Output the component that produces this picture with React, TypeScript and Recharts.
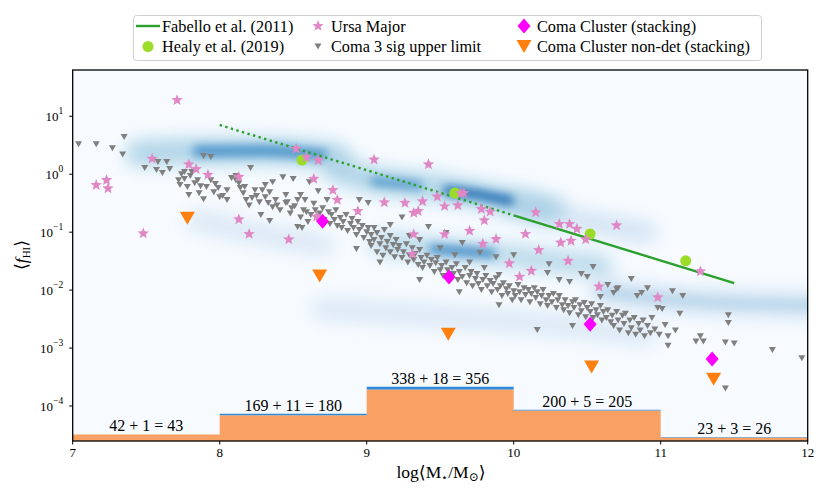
import React from 'react';
import { ComposedChart, CartesianGrid, XAxis, YAxis, Line, Area, Scatter, ReferenceDot } from 'recharts';

const FONT = 'Liberation Serif, DejaVu Serif, serif';

// stacked histogram of stellar mass (non-det + det)
const binEdges = [7, 8, 9, 10, 11, 12];
const binCounts = [42, 169, 338, 200, 23];
const binExtra = [1, 11, 18, 5, 3];

// Fabello et al. (2011) stacking relation: measured + extrapolated
const fabelloSolid = [[10, 0.195], [11.5, 0.0132]];
const fabelloDotted = [[8, 7.07], [10, 0.195]];

const healy = [[8.56, 1.76], [9.6, 0.474], [10.52, 0.093], [11.17, 0.032]];
const comaStack = [[8.7, 0.155], [9.56, 0.0168], [10.52, 0.00257], [11.35, 0.00065]];
const comaNonDet = [[7.78, 0.174], [8.68, 0.0175], [9.555, 0.00174], [10.53, 0.00047], [11.36, 0.00029]];

const ursaMajor = [
  [7.71, 19], [7.54, 1.85], [7.16, 0.65], [7.23, 0.79], [7.24, 0.57], [7.79, 1.48], [7.84, 1.22], [7.92, 0.98],
  [8.13, 0.9], [7.48, 0.095], [8.13, 0.166], [8.2, 0.093], [8.47, 0.075], [8.52, 2.75], [8.59, 1.96], [8.67, 1.74],
  [8.64, 0.83], [8.66, 0.185], [9.05, 1.78], [9.42, 1.48], [8.77, 0.53], [8.8, 0.36], [8.94, 0.23], [9.12, 0.327],
  [9.26, 0.32], [9.38, 0.34], [9.32, 0.215], [9.35, 0.23], [9.48, 0.41], [9.53, 0.28], [9.62, 0.29], [9.64, 0.47],
  [9.66, 0.47], [9.78, 0.25], [9.84, 0.225], [9.8, 0.16], [10.15, 0.22], [10.31, 0.138], [10.38, 0.138], [10.43, 0.114],
  [10.49, 0.075], [10.32, 0.066], [10.39, 0.071], [10.7, 0.131], [10.37, 0.032], [11.27, 0.021], [10.58, 0.0115],
  [10.98, 0.0075], [10.08, 0.093], [10.17, 0.049], [9.7, 0.105], [9.88, 0.076], [9.79, 0.063], [9.53, 0.092],
  [9.32, 0.092], [9.31, 0.042], [9.97, 0.029], [10.12, 0.0215], [10.04, 0.017],
];

// Coma 3 sigma upper limits, split by mass bin
const comaLimits7 = [
  [7.04, 3.3], [7.16, 3.3], [7.27, 2.8], [7.35, 4.4], [7.34, 2.2], [7.49, 1.28], [7.58, 1.63], [7.64, 1.63],
  [7.66, 1.23], [7.57, 1.18], [7.61, 1.05], [7.72, 0.79], [7.74, 1.0], [7.76, 0.83], [7.78, 0.6], [7.8, 0.93],
  [7.81, 1.09], [7.83, 0.7], [7.85, 0.79], [7.87, 0.62], [7.89, 0.37], [7.89, 2.06], [7.94, 1.98], [7.91, 0.6],
  [7.94, 0.79], [7.96, 0.49], [7.97, 0.68], [7.99, 0.58], [7.73, 0.65], [7.76, 1.09], [7.79, 0.44], [7.86, 0.47],
];
const comaLimits8 = [
  [8.0, 0.4], [8.02, 0.42], [8.05, 0.53], [8.08, 0.86], [8.11, 0.79], [8.14, 0.58], [8.16, 0.47], [8.18, 0.36],
  [8.2, 0.29], [8.21, 1.28], [8.22, 0.39], [8.25, 0.42], [8.27, 0.33], [8.28, 0.198], [8.29, 0.53], [8.31, 0.4],
  [8.33, 0.32], [8.34, 0.49], [8.34, 0.156], [8.36, 0.73], [8.36, 0.27], [8.38, 0.36], [8.39, 0.29], [8.41, 0.24],
  [8.43, 0.89], [8.45, 0.32], [8.46, 0.33], [8.48, 0.21], [8.49, 0.26], [8.5, 0.83], [8.51, 0.28], [8.53, 0.36],
  [8.53, 0.123], [8.55, 0.18], [8.56, 0.118], [8.57, 0.24], [8.58, 0.36], [8.59, 0.22], [8.6, 0.15], [8.61, 0.73],
  [8.62, 0.198], [8.64, 0.31], [8.65, 0.24], [8.66, 0.175], [8.67, 0.51], [8.68, 0.21], [8.7, 0.26], [8.71, 0.162],
  [8.73, 0.36], [8.74, 0.22], [8.75, 0.138], [8.76, 0.198], [8.78, 0.162], [8.79, 0.24], [8.8, 0.128], [8.82, 0.175],
  [8.83, 0.118], [8.84, 0.15], [8.86, 0.198], [8.87, 0.105], [8.89, 0.138], [8.9, 0.169], [8.91, 0.118], [8.93, 0.089],
  [8.93, 0.051], [8.94, 0.15], [8.95, 0.36], [8.95, 0.109], [8.97, 0.128], [8.98, 0.079], [8.13, 0.7], [8.17, 0.6],
  [8.24, 0.53], [8.31, 0.65], [8.45, 0.44], [8.55, 0.44], [8.11, 0.93], [8.05, 0.36],
];
const comaLimits9 = [
  [9.0, 0.1], [9.01, 0.32], [9.01, 0.118], [9.02, 0.068], [9.03, 0.089], [9.03, 0.058], [9.05, 0.118], [9.05, 0.073],
  [9.07, 0.045], [9.07, 0.097], [9.09, 0.062], [9.1, 0.079], [9.11, 0.039], [9.12, 0.109], [9.13, 0.053], [9.14, 0.068],
  [9.16, 0.086], [9.16, 0.045], [9.18, 0.06], [9.19, 0.037], [9.2, 0.073], [9.21, 0.049], [9.22, 0.058], [9.24, 0.18],
  [9.24, 0.036], [9.25, 0.045], [9.27, 0.062], [9.28, 0.03], [9.29, 0.04], [9.31, 0.053], [9.32, 0.033], [9.33, 0.042],
  [9.35, 0.027], [9.36, 0.049], [9.37, 0.036], [9.38, 0.024], [9.39, 0.03], [9.41, 0.039], [9.42, 0.123], [9.43, 0.026],
  [9.44, 0.033], [9.46, 0.0205], [9.47, 0.029], [9.48, 0.036], [9.5, 0.022], [9.51, 0.026], [9.52, 0.0175], [9.54, 0.03],
  [9.54, 0.097], [9.55, 0.022], [9.57, 0.0155], [9.58, 0.024], [9.59, 0.019], [9.61, 0.028], [9.62, 0.0149], [9.63, 0.0205],
  [9.65, 0.0168], [9.65, 0.065], [9.67, 0.024], [9.68, 0.0132], [9.7, 0.0175], [9.71, 0.0205], [9.72, 0.0117], [9.74, 0.0155],
  [9.75, 0.019], [9.76, 0.0127], [9.77, 0.044], [9.78, 0.01], [9.79, 0.0149], [9.81, 0.0175], [9.82, 0.0117], [9.84, 0.0143],
  [9.85, 0.0092], [9.86, 0.0127], [9.88, 0.0161], [9.88, 0.037], [9.89, 0.01], [9.91, 0.0117], [9.92, 0.0079], [9.93, 0.0132],
  [9.95, 0.0104], [9.96, 0.0086], [9.97, 0.0117], [9.99, 0.0067], [9.16, 0.133], [9.29, 0.086], [9.36, 0.073], [9.5, 0.053],
  [9.6, 0.04], [9.7, 0.03], [9.8, 0.024], [9.9, 0.0182], [9.09, 0.03], [9.36, 0.0149], [9.63, 0.0092], [9.9, 0.0055],
];
const comaLimits10 = [
  [10.0, 0.04], [10.0, 0.0096], [10.01, 0.0079], [10.03, 0.0122], [10.04, 0.0092], [10.05, 0.0067], [10.07, 0.0108],
  [10.08, 0.0082], [10.1, 0.01], [10.11, 0.0062], [10.12, 0.0086], [10.14, 0.0108], [10.15, 0.0073], [10.16, 0.00205],
  [10.16, 0.0092], [10.18, 0.0057], [10.19, 0.0079], [10.2, 0.01], [10.22, 0.0067], [10.23, 0.0197], [10.23, 0.0053],
  [10.24, 0.028], [10.24, 0.0079], [10.26, 0.0062], [10.27, 0.0086], [10.29, 0.0049], [10.3, 0.0067], [10.31, 0.0149],
  [10.31, 0.0079], [10.33, 0.0055], [10.34, 0.0045], [10.35, 0.0067], [10.37, 0.0053], [10.38, 0.0138], [10.38, 0.004],
  [10.4, 0.0062], [10.41, 0.0049], [10.42, 0.0067], [10.44, 0.0037], [10.45, 0.0055], [10.46, 0.019], [10.46, 0.0043],
  [10.48, 0.006], [10.49, 0.0034], [10.5, 0.0168], [10.5, 0.0049], [10.52, 0.0042], [10.53, 0.0057], [10.54, 0.025],
  [10.54, 0.0033], [10.56, 0.0045], [10.57, 0.0037], [10.59, 0.0053], [10.59, 0.0076], [10.6, 0.003], [10.61, 0.0042],
  [10.63, 0.0033], [10.64, 0.0122], [10.64, 0.0045], [10.66, 0.0028], [10.67, 0.0036], [10.68, 0.0089], [10.68, 0.0024],
  [10.7, 0.0104], [10.7, 0.0042], [10.71, 0.0108], [10.71, 0.003], [10.72, 0.002], [10.74, 0.0036], [10.75, 0.0026],
  [10.76, 0.0039], [10.78, 0.0018], [10.79, 0.003], [10.8, 0.0155], [10.8, 0.0022], [10.82, 0.0033], [10.83, 0.0017],
  [10.84, 0.0079], [10.85, 0.0026], [10.86, 0.002], [10.87, 0.0089], [10.88, 0.003], [10.89, 0.0016], [10.91, 0.0108],
  [10.91, 0.0024], [10.93, 0.0018], [10.94, 0.0033], [10.96, 0.0021], [10.98, 0.0049], [10.99, 0.0017], [10.4, 0.0024],
];
const comaLimits11 = [
  [11.01, 0.0047], [11.03, 0.0025], [11.05, 0.0016], [11.05, 0.0011], [11.08, 0.0096], [11.1, 0.002], [11.13, 0.0039],
  [11.15, 0.0079], [11.24, 0.0013], [11.27, 0.0016], [11.29, 0.0013], [11.44, 0.00125], [11.5, 0.0012], [11.46, 0.0037],
  [11.46, 0.0027], [11.76, 0.00093], [11.96, 0.00067], [11.44, 0.0002],
];

// background density ridges (x, f)
const bandUpper = [[7.45, 2.3], [7.9, 2.5], [8.35, 2.5], [8.8, 2.0]];
const bandUpperCore = [[7.85, 2.5], [8.3, 2.55], [8.7, 2.15]];
const bandMiddle = [[8.8, 1.2], [9.1, 0.75], [9.4, 0.62], [9.7, 0.47], [10.0, 0.33], [10.25, 0.25]];
const bandMiddleCore = [[9.05, 0.76], [9.35, 0.64]];
const bandMiddleDark = [[9.55, 0.52], [9.75, 0.45], [9.97, 0.35]];
const bandTail = [[10.0, 0.3], [10.5, 0.15], [10.9, 0.1]];
const bandLower = [[9.1, 0.065], [9.5, 0.05], [9.8, 0.043], [10.3, 0.031], [10.6, 0.026]];
const bandLowerCore = [[9.45, 0.051], [9.85, 0.043]];
const bandRight = [[10.6, 0.0095], [11.1, 0.0068], [11.6, 0.0058], [12.1, 0.0055]];
const bandFaintLeft = [[7.85, 0.16], [8.3, 0.09], [8.7, 0.06]];
const bandFaintLow = [[8.7, 0.0048], [9.5, 0.0035], [10.2, 0.0026], [10.9, 0.0017]];

const yTicks = [1e-4, 1e-3, 1e-2, 1e-1, 1, 10];
const xTicks = [7, 8, 9, 10, 11, 12];

const pts = (a: number[][]) => a.map(([x, y]) => ({ x, y }));

const histData = binEdges.map((x, i) => ({
  x,
  main: binCounts[Math.min(i, binCounts.length - 1)],
  extra: binExtra[Math.min(i, binExtra.length - 1)],
}));

const LIME = '#9bdc28';
const PINK = '#e088c6';
const GREEN = '#2ca02c';
const txt = { fontFamily: FONT };

function starPath(cx: number, cy: number, R: number, r: number) {
  let d = '';
  for (let i = 0; i < 10; i++) {
    const rad = i % 2 === 0 ? R : r;
    const a = -Math.PI / 2 + (i * Math.PI) / 5;
    d += (i ? 'L' : 'M') + (cx + rad * Math.cos(a)).toFixed(2) + ',' + (cy + rad * Math.sin(a)).toFixed(2);
  }
  return d + 'Z';
}
const triPath = (cx: number, cy: number, w: number, h: number) =>
  `M${cx - w / 2},${cy - h / 2}L${cx + w / 2},${cy - h / 2}L${cx},${cy + h / 2}Z`;
const diamondPath = (cx: number, cy: number, w: number, h: number) =>
  `M${cx},${cy - h}L${cx + w},${cy}L${cx},${cy + h}L${cx - w},${cy}Z`;

const GreyTri = (p: any) => <path d={triPath(p.cx, p.cy, 7, 6)} fill="#7f7f7f" />;
const OrangeTri = (p: any) => <path d={triPath(p.cx, p.cy, 15, 13)} fill="#ff7f0e" />;
const Diamond = (p: any) => <path d={diamondPath(p.cx, p.cy, 6.5, 7.5)} fill="#ff00ff" />;
const LimeDot = (p: any) => <circle cx={p.cx} cy={p.cy} r={5.5} fill={LIME} />;
const Star = (p: any) => <path d={starPath(p.cx, p.cy, 6, 2.6)} fill={PINK} />;

function YTick({ x, y, payload }: any) {
  const e = Math.round(Math.log10(payload.value));
  return (
    <text x={x} y={y} textAnchor="end" style={txt} fontSize={13} fill="#000" dominantBaseline="central">
      10<tspan dy={-5} fontSize={9.5}>{e < 0 ? '\u2212' + Math.abs(e) : String(e)}</tspan>
    </text>
  );
}

function XTick({ x, y, payload }: any) {
  return (
    <text x={x} y={y + 10} textAnchor="middle" style={txt} fontSize={13} fill="#000">
      {payload.value}
    </text>
  );
}

const binLabel = (text: string) => (props: any) => {
  const vb = props.viewBox;
  return (
    <text x={vb.x + vb.width / 2} y={vb.y - 3} textAnchor="middle" style={txt} fontSize={16} fill="#000">
      {text}
    </text>
  );
};

// blurred ridge layers: [data, width, colour, opacity, filter]
const densityLayers: [number[][], number, string, number, string][] = [
  [bandFaintLow, 24, '#c6dbef', 0.55, 'url(#blurWide)'],
  [bandFaintLeft, 22, '#c6dbef', 0.6, 'url(#blurWide)'],
  [bandRight, 24, '#c6dbef', 0.85, 'url(#blurWide)'],
  [bandRight, 8, '#9ecae1', 0.5, 'url(#blurNarrow)'],
  [bandTail, 22, '#c6dbef', 0.75, 'url(#blurWide)'],
  [bandLower, 22, '#9ecae1', 0.7, 'url(#blurWide)'],
  [bandLowerCore, 9, '#3a86c2', 0.95, 'url(#blurNarrow)'],
  [bandUpper, 26, '#9ecae1', 0.8, 'url(#blurWide)'],
  [bandUpperCore, 11, '#4690c8', 0.95, 'url(#blurNarrow)'],
  [bandMiddle, 26, '#9ecae1', 0.8, 'url(#blurWide)'],
  [bandMiddleCore, 9, '#4690c8', 0.85, 'url(#blurNarrow)'],
  [bandMiddleDark, 10, '#2672b4', 1, 'url(#blurNarrow)'],
];

export default function App() {
  return (
    <div style={{ position: 'absolute', left: 0, top: 0, width: 830, height: 498, background: '#fff', fontFamily: FONT }}>
      <svg width={0} height={0} style={{ position: 'absolute' }}>
        <defs>
          <filter id="blurWide" filterUnits="userSpaceOnUse" x={-50} y={-50} width={950} height={600}>
            <feGaussianBlur stdDeviation={9} />
          </filter>
          <filter id="blurNarrow" filterUnits="userSpaceOnUse" x={-50} y={-50} width={950} height={600}>
            <feGaussianBlur stdDeviation={5} />
          </filter>
        </defs>
      </svg>
      <ComposedChart width={830} height={498} data={histData} margin={{ top: 70, right: 22.3, bottom: 27, left: 0 }}>
        <CartesianGrid yAxisId="f" horizontal={false} vertical={false} fill="#f7fbff" stroke="none" />
        <XAxis
          dataKey="x"
          type="number"
          domain={[7, 12]}
          ticks={xTicks}
          allowDataOverflow
          height={30}
          axisLine={false}
          tickLine={{ stroke: '#000' }}
          tickSize={3.5}
          tickMargin={2}
          tick={<XTick />}
        />
        <YAxis
          yAxisId="f"
          dataKey="y"
          type="number"
          scale="log"
          domain={[2.49e-5, 62.9]}
          ticks={yTicks}
          allowDataOverflow
          width={72.7}
          axisLine={false}
          tickLine={{ stroke: '#000' }}
          tickSize={3.5}
          tickMargin={6}
          tick={<YTick />}
        />
        <YAxis yAxisId="h" orientation="right" type="number" domain={[0, 2440]} hide allowDataOverflow />

        {densityLayers.map(([band, w, c, o, f], i) => (
          <Line
            key={'d' + i}
            yAxisId="f"
            data={pts(band)}
            dataKey="y"
            type="monotone"
            stroke={c}
            strokeWidth={w}
            strokeOpacity={o}
            strokeLinecap="round"
            filter={f}
            dot={false}
            activeDot={false}
            legendType="none"
            isAnimationActive={false}
          />
        ))}

        <Area yAxisId="h" dataKey="main" stackId="hist" type="stepAfter" fill="#f9a164" fillOpacity={1} stroke="none" isAnimationActive={false} />
        <Area yAxisId="h" dataKey="extra" stackId="hist" type="stepAfter" fill="#2e8ad8" fillOpacity={1} stroke="none" isAnimationActive={false} />

        <Scatter yAxisId="f" data={pts(comaLimits7)} shape={GreyTri} isAnimationActive={false} />
        <Scatter yAxisId="f" data={pts(comaLimits8)} shape={GreyTri} isAnimationActive={false} />
        <Scatter yAxisId="f" data={pts(comaLimits9)} shape={GreyTri} isAnimationActive={false} />
        <Scatter yAxisId="f" data={pts(comaLimits10)} shape={GreyTri} isAnimationActive={false} />
        <Scatter yAxisId="f" data={pts(comaLimits11)} shape={GreyTri} isAnimationActive={false} />

        <Line yAxisId="f" data={pts(fabelloDotted)} dataKey="y" stroke={GREEN} strokeWidth={2.4} strokeDasharray="2.4 3.4" dot={false} activeDot={false} isAnimationActive={false} />
        <Line yAxisId="f" data={pts(fabelloSolid)} dataKey="y" stroke={GREEN} strokeWidth={2.4} dot={false} activeDot={false} isAnimationActive={false} />

        <Scatter yAxisId="f" data={pts(healy)} shape={LimeDot} isAnimationActive={false} />
        <Scatter yAxisId="f" data={pts(ursaMajor)} shape={Star} isAnimationActive={false} />
        <Scatter yAxisId="f" data={pts(comaStack)} shape={Diamond} isAnimationActive={false} />
        <Scatter yAxisId="f" data={pts(comaNonDet)} shape={OrangeTri} isAnimationActive={false} />

        {binCounts.map((n, i) => (
          <ReferenceDot
            key={'l' + i}
            yAxisId="h"
            x={(binEdges[i] + binEdges[i + 1]) / 2}
            y={n + binExtra[i]}
            r={0}
            fill="none"
            stroke="none"
            label={binLabel(`${n} + ${binExtra[i]} = ${n + binExtra[i]}`)}
          />
        ))}
      </ComposedChart>

      <svg width={830} height={498} style={{ position: 'absolute', left: 0, top: 0, pointerEvents: 'none', fontFamily: FONT }}>
        <rect x={72.7} y={70} width={735} height={371} fill="none" stroke="#000" strokeWidth={1.3} />

        <rect x={133.5} y={15.5} width={628} height={45} rx={3} fill="#fff" stroke="#cfcfcf" strokeWidth={1} />
        <line x1={136} x2={160} y1={26} y2={26} stroke={GREEN} strokeWidth={2.4} />
        <circle cx={148} cy={46.5} r={5.5} fill={LIME} />
        <path d={starPath(318, 26, 6, 2.6)} fill={PINK} />
        <path d={triPath(318, 46.5, 7, 6)} fill="#7f7f7f" />
        <path d={diamondPath(524, 26, 6.5, 7.5)} fill="#ff00ff" />
        <path d={triPath(524, 46.5, 15, 13)} fill="#ff7f0e" />
        <g fontSize={16.3} fill="#000" style={txt}>
          <text x={162} y={31.5}>Fabello et al. (2011)</text>
          <text x={162} y={52}>Healy et al. (2019)</text>
          <text x={331} y={31.5}>Ursa Major</text>
          <text x={331} y={52}>Coma 3 sig upper limit</text>
          <text x={537} y={31.5}>Coma Cluster (stacking)</text>
          <text x={537} y={52}>Coma Cluster non-det (stacking)</text>
        </g>

        <text x={441} y={478} textAnchor="middle" fontSize={17.5} fill="#000" style={txt}>
          log⟨M<tspan dy={3} fontSize={11}>⋆</tspan><tspan dy={-3}>/M</tspan><tspan dy={3} fontSize={12}>⊙</tspan><tspan dy={-3}>⟩</tspan>
        </text>
        <text transform="translate(27,255) rotate(-90)" textAnchor="middle" fontSize={17.5} fill="#000" style={txt}>
          ⟨<tspan fontStyle="italic">f</tspan><tspan dy={3} fontSize={11}>HI</tspan><tspan dy={-3}>⟩</tspan>
        </text>
      </svg>
    </div>
  );
}
